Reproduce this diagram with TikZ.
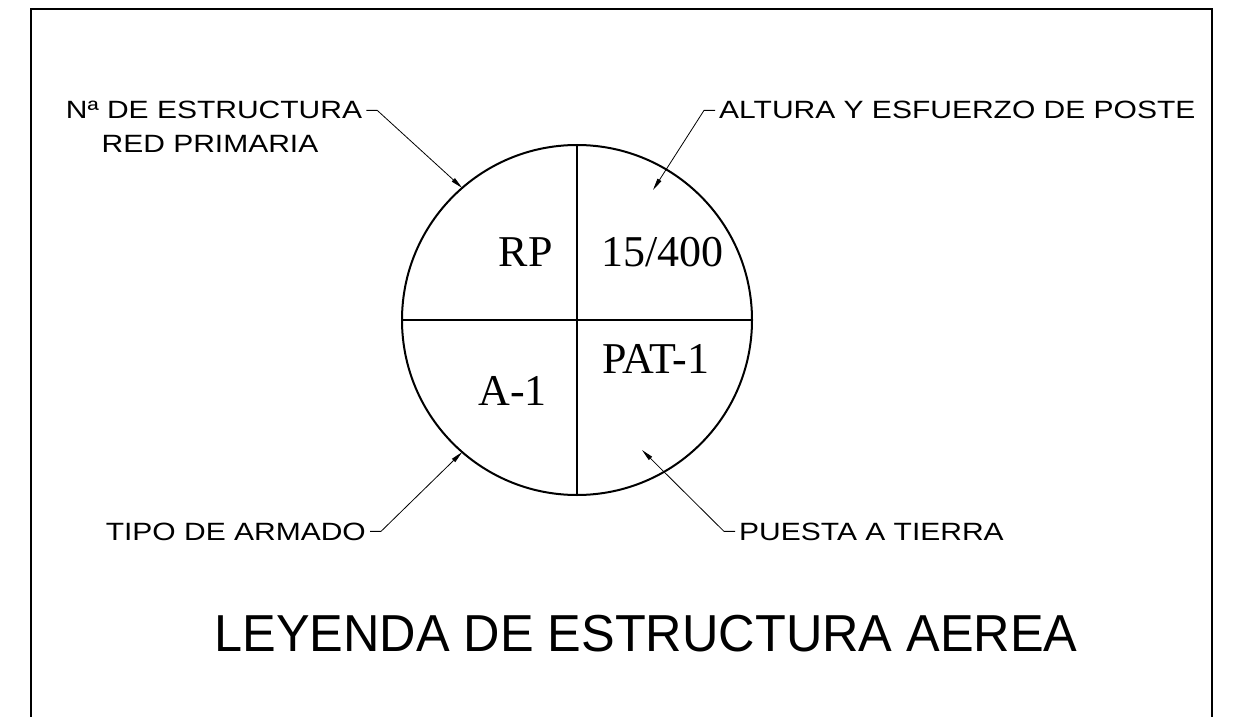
\documentclass[tikz,border=0pt]{standalone}
\usepackage{fontspec}
\setmainfont{Liberation Serif}
\newfontfamily\labfont[FakeStretch=1.2]{Liberation Sans}
\newfontfamily\ttlfont[FakeStretch=0.97]{Liberation Sans}
\usetikzlibrary{arrows.meta}
\tikzset{
  lab/.style={inner sep=0pt, font=\labfont\fontsize{25bp}{30bp}\selectfont},
  cell/.style={inner sep=0pt, font=\fontsize{44bp}{50bp}\selectfont},
  leader/.style={line width=0.8bp, -{Triangle[length=12bp,width=4.5bp]}},
  frame/.style={line width=2bp},
}
\begin{document}
\begin{tikzpicture}[x=1bp,y=-1bp]
\useasboundingbox (0,0) rectangle (1249,717);
% frame (open at bottom)
\draw[frame] (31,717) -- (31,9) -- (1212,9) -- (1212,717);
% circle
\node[circle, draw, line width=2bp, minimum size=350bp, inner sep=0pt, outer sep=0pt] (c) at (577,320) {};
\draw[line width=1.6bp] (c.north) -- (c.south);
\draw[line width=1.6bp] (c.west) -- (c.east);
% cell texts
\node[cell, anchor=base east] (rp) at (553,266) {RP};
\node[cell, anchor=base west] (poste) at (601,266) {15/400};
\node[cell, anchor=base east] (arm) at (547,405) {A-1};
\node[cell, anchor=base west] (pat) at (602,373) {PAT-1};
% labels
\node[lab, anchor=base] (l1a) at (214,119) {Nª DE ESTRUCTURA};
\node[lab, anchor=base] (l1b) at (210,153) {RED PRIMARIA};
\node[lab, anchor=base west] (l2) at (719,119) {ALTURA Y ESFUERZO DE POSTE};
\node[lab, anchor=base east] (l3) at (366,540) {TIPO DE ARMADO};
\node[lab, anchor=base west] (l4) at (739,540) {PUESTA A TIERRA};
% title
\node[inner sep=0pt, anchor=base, font=\ttlfont\fontsize{52bp}{60bp}\selectfont] (title) at (646,651) {LEYENDA DE ESTRUCTURA AEREA};
% leader tips
\coordinate (tipTR) at (653,190);
\coordinate (tipBR) at (642,450);
% leaders
\draw[leader] ([xshift=4bp]l1a.east) -- ++(11,0) -- (c.131);
\draw[leader] ([xshift=-4bp]l2.west) -- ++(-11,0) -- (tipTR);
\draw[leader] ([xshift=4bp]l3.east) -- ++(11,0) -- (c.-131.4);
\draw[leader] ([xshift=-4bp]l4.west) -- ++(-11,0) -- (tipBR);
\end{tikzpicture}
\end{document}
